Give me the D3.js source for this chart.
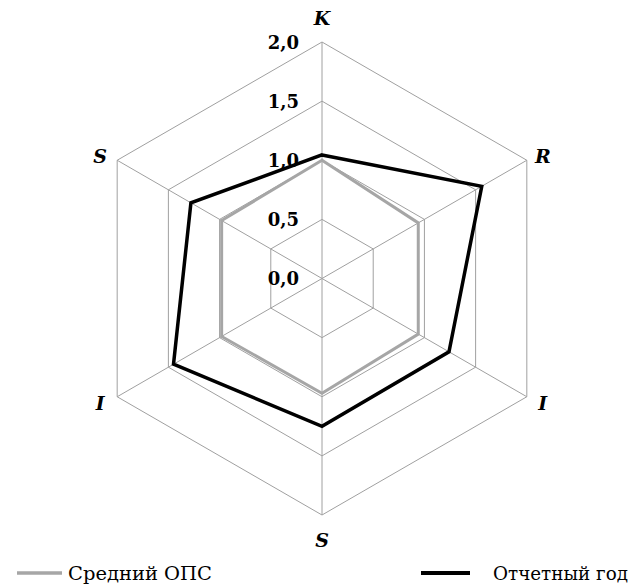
<!DOCTYPE html>
<html>
<head>
<meta charset="utf-8">
<script src="https://cdn.jsdelivr.net/npm/d3@7"></script>
<style>
  html, body { margin: 0; padding: 0; background: #fff; }
  svg { display: block; }
</style>
</head>
<body>
<div id="chart"></div>
<script>
// Axes go clockwise from the top
const axes = ['K', 'R', 'I', 'S', 'I', 'S']
const ticks = [0, 0.5, 1.0, 1.5, 2.0]
const tickLabels = ['0,0', '0,5', '1,0', '1,5', '2,0']

const seriesNames = ['Средний ОПС', 'Отчетный год']
const avgValues = [1.00, 0.94, 0.94, 0.97, 0.98, 0.98]
const yearValues = [1.045, 1.56, 1.24, 1.25, 1.45, 1.28]

const width = 635
const height = 586
const cx = 322
const cy = 278.5
const radius = 236.5
const serif = "'DejaVu Serif', serif"

const r = d3.scaleLinear().domain([0, 2]).range([0, radius])
const angle = i => i * Math.PI / 3
const px = (i, v) => cx + r(v) * Math.sin(angle(i))
const py = (i, v) => cy - r(v) * Math.cos(angle(i))

const svg = d3.select('#chart')
  .append('svg')
  .attr('width', width)
  .attr('height', height)

// Grid rings
const ringLine = d3.line().x(d => d[0]).y(d => d[1])
svg.append('g')
  .selectAll('path')
  .data(ticks.filter(t => t > 0))
  .join('path')
  .attr('d', t => ringLine(axes.map((a, i) => [px(i, t), py(i, t)])) + 'Z')
  .attr('fill', 'none')
  .attr('stroke', '#a0a0a0')
  .attr('stroke-width', 1)

// Spokes
svg.append('g')
  .selectAll('line')
  .data(axes)
  .join('line')
  .attr('x1', cx)
  .attr('y1', cy)
  .attr('x2', (d, i) => px(i, 2))
  .attr('y2', (d, i) => py(i, 2))
  .attr('stroke', '#a0a0a0')
  .attr('stroke-width', 1)

// Tick labels along the top spoke
svg.append('g')
  .selectAll('text')
  .data(ticks)
  .join('text')
  .attr('x', cx - 23)
  .attr('y', t => cy - r(t))
  .attr('text-anchor', 'end')
  .attr('dominant-baseline', 'central')
  .attr('font-family', serif)
  .attr('font-weight', 'bold')
  .attr('font-size', '18px')
  .attr('fill', '#000')
  .text((t, i) => tickLabels[i])

// Series
const series = [
  { name: seriesNames[0], values: avgValues, color: '#a6a6a6', w: 3 },
  { name: seriesNames[1], values: yearValues, color: '#000000', w: 3.5 }
]
const radar = d3.lineRadial()
  .angle((d, i) => angle(i))
  .radius(d => r(d))
  .curve(d3.curveLinearClosed)

svg.append('g')
  .attr('transform', `translate(${cx},${cy})`)
  .selectAll('path')
  .data(series)
  .join('path')
  .attr('d', s => radar(s.values))
  .attr('fill', 'none')
  .attr('stroke', s => s.color)
  .attr('stroke-width', s => s.w)
  .attr('stroke-linejoin', 'miter')

// Axis labels
svg.append('g')
  .selectAll('text')
  .data(axes)
  .join('text')
  .attr('x', (d, i) => {
    const s = Math.round(Math.sin(angle(i)) * 100) / 100
    return px(i, 2) + (s > 0 ? 16 : s < 0 ? -17 : 0)
  })
  .attr('y', (d, i) => {
    const c = Math.round(Math.cos(angle(i)) * 100) / 100
    if (c === 1) return py(i, 2) - 24
    if (c === -1) return py(i, 2) + 25
    return py(i, 2) + (c > 0 ? -4 : 6)
  })
  .attr('text-anchor', 'middle')
  .attr('dominant-baseline', 'central')
  .attr('font-family', serif)
  .attr('font-weight', 'bold')
  .attr('font-style', 'italic')
  .attr('font-size', '19px')
  .attr('fill', '#000')
  .text(d => d)

// Legend (text squeezed to the narrower serif of the original)
const legend = svg.append('g')
const legendItems = [
  { s: series[0], x1: 17, x2: 62, tx: 68, len: 144 },
  { s: series[1], x1: 421, x2: 470, tx: 493, len: 135 }
]
legend.selectAll('line')
  .data(legendItems)
  .join('line')
  .attr('x1', d => d.x1)
  .attr('x2', d => d.x2)
  .attr('y1', 573)
  .attr('y2', 573)
  .attr('stroke', d => d.s.color)
  .attr('stroke-width', d => d.s.w + 0.5)

legend.selectAll('text')
  .data(legendItems)
  .join('text')
  .attr('x', d => d.tx)
  .attr('y', 573)
  .attr('dominant-baseline', 'central')
  .attr('font-family', serif)
  .attr('font-size', '19px')
  .attr('textLength', d => d.len)
  .attr('lengthAdjust', 'spacingAndGlyphs')
  .attr('fill', '#000')
  .text(d => d.s.name)
</script>
</body>
</html>
